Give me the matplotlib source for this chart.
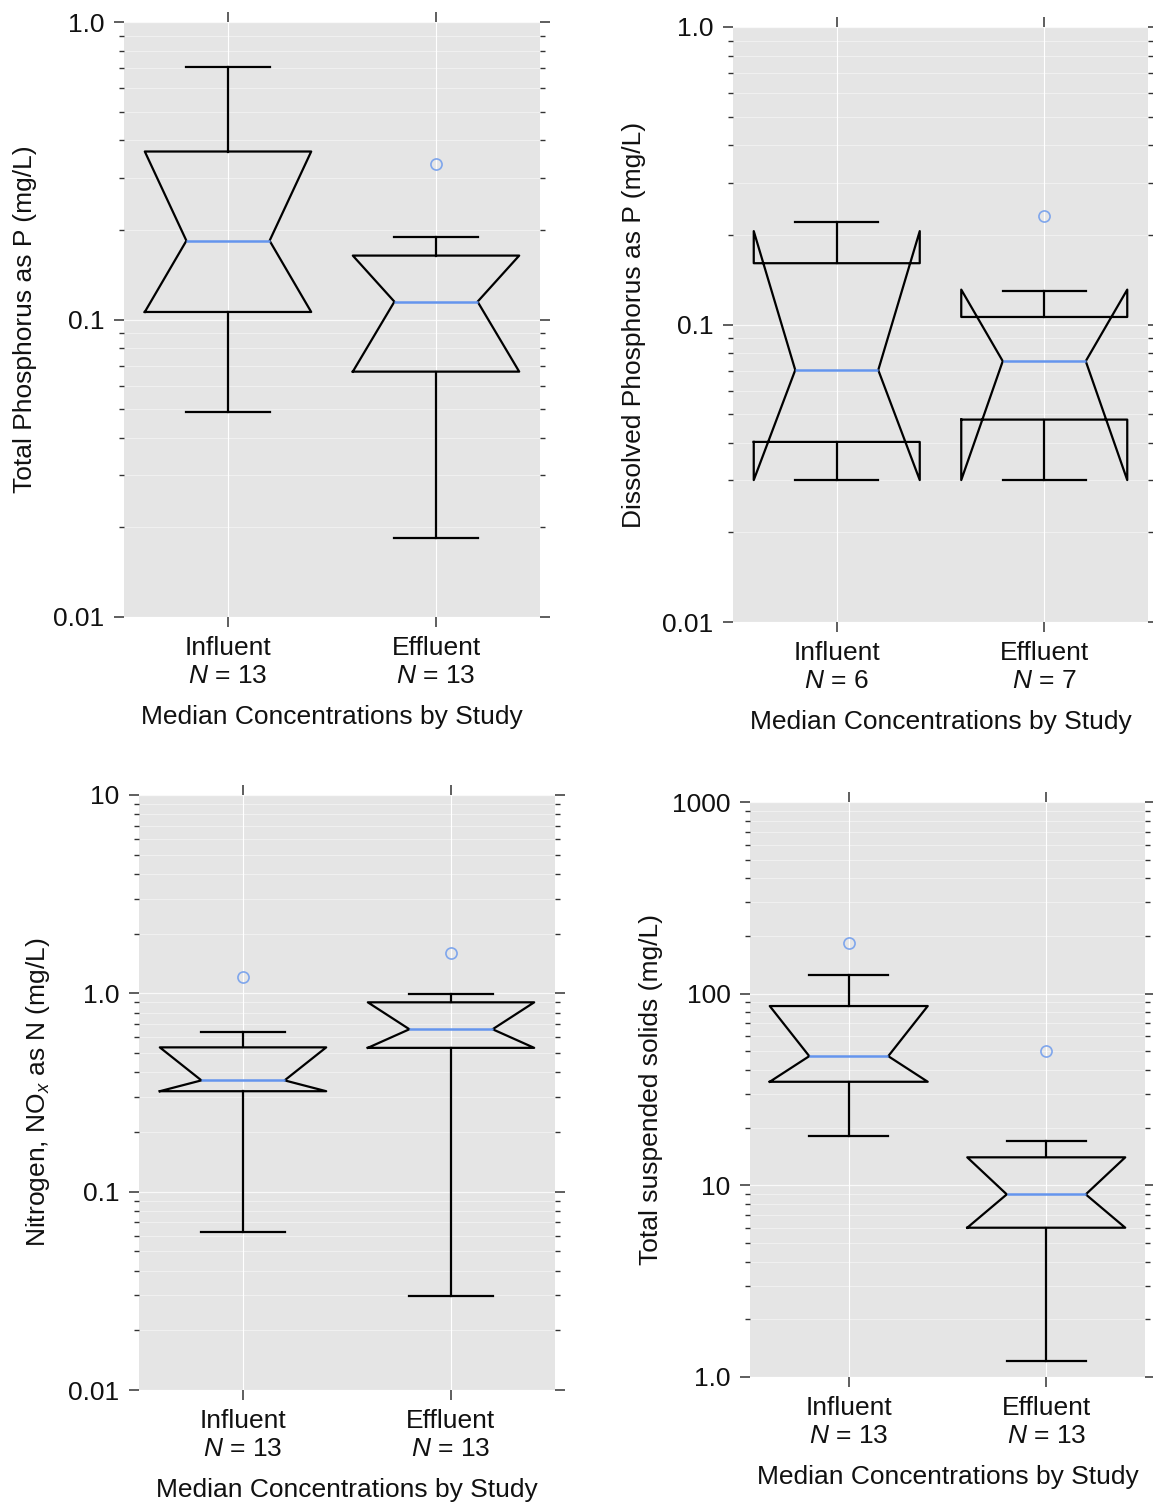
import numpy as np
import matplotlib
matplotlib.use("Agg")
from matplotlib import pyplot as plt
from matplotlib.ticker import FixedLocator, FixedFormatter, LogLocator, NullFormatter

plt.rcParams["font.family"] = "Liberation Sans"
plt.rcParams["mathtext.fontset"] = "custom"
plt.rcParams["mathtext.rm"] = "Liberation Sans"
plt.rcParams["mathtext.it"] = "Liberation Sans:italic"

locations = ["Influent", "Effluent"]
xlabel = "Median Concentrations by Study"

# total phosphorus as P (mg/L)
tp_n = [13, 13]
tp_whislo = [0.049, 0.0184]
tp_q1 = [0.106, 0.0668]
tp_med = [0.184, 0.1148]
tp_q3 = [0.367, 0.164]
tp_whishi = [0.706, 0.1887]
tp_cilo = [0.106, 0.0668]
tp_cihi = [0.367, 0.164]
tp_fliers = [[], [0.334]]

# dissolved phosphorus as P (mg/L)
dp_n = [6, 7]
dp_whislo = [0.030, 0.030]
dp_q1 = [0.0403, 0.0479]
dp_med = [0.0703, 0.0753]
dp_q3 = [0.1607, 0.106]
dp_whishi = [0.221, 0.130]
dp_cilo = [0.030, 0.030]
dp_cihi = [0.206, 0.131]
dp_fliers = [[], [0.232]]

# nitrogen, NOx as N (mg/L)
nox_n = [13, 13]
nox_whislo = [0.0623, 0.0298]
nox_q1 = [0.321, 0.531]
nox_med = [0.364, 0.659]
nox_q3 = [0.534, 0.901]
nox_whishi = [0.636, 0.997]
nox_cilo = [0.321, 0.531]
nox_cihi = [0.534, 0.901]
nox_fliers = [[1.205], [1.60]]

# total suspended solids (mg/L)
tss_n = [13, 13]
tss_whislo = [18.0, 1.21]
tss_q1 = [34.7, 6.01]
tss_med = [47.2, 8.97]
tss_q3 = [86.2, 14.0]
tss_whishi = [124.6, 17.0]
tss_cilo = [34.7, 6.01]
tss_cihi = [86.2, 14.0]
tss_fliers = [[183.5], [50.4]]

tp_yticks = [0.01, 0.1, 1.0]
tp_yticklabels = ["0.01", "0.1", "1.0"]
nox_yticks = [0.01, 0.1, 1.0, 10.0]
nox_yticklabels = ["0.01", "0.1", "1.0", "10"]
tss_yticks = [1.0, 10.0, 100.0, 1000.0]
tss_yticklabels = ["1.0", "10", "100", "1000"]

W, H = 1153, 1507
FS = 19
BOX_COLOR = "black"
MED_COLOR = "#6495ed"
FLIER_COLOR = "#7fa6ec"
TICK_COLOR = "#333333"
TEXT_COLOR = "#111111"


def box_stats(whislo, q1, med, q3, whishi, cilo, cihi, fliers):
    stats = []
    for i in range(len(med)):
        stats.append(dict(whislo=whislo[i], q1=q1[i], med=med[i], q3=q3[i],
                          whishi=whishi[i], cilo=cilo[i], cihi=cihi[i],
                          fliers=np.array(fliers[i]), label=locations[i]))
    return stats


def draw_panel(fig, rect_px, stats, n, yticks, yticklabels, ylabel):
    # rect_px = (left, top, right, bottom) in pixels from the top-left corner
    l, t, r, b = rect_px
    ax = fig.add_axes([l / W, 1 - b / H, (r - l) / W, (b - t) / H])
    ax.set_facecolor("#e5e5e5")
    ax.set_axisbelow(True)
    ax.set_yscale("log")

    lw = 1.6
    ax.bxp(stats, positions=[1, 2], widths=0.8, shownotches=True,
           manage_ticks=False,
           boxprops=dict(color=BOX_COLOR, lw=lw),
           whiskerprops=dict(color=BOX_COLOR, lw=lw),
           capprops=dict(color=BOX_COLOR, lw=lw),
           medianprops=dict(color=MED_COLOR, lw=1.8),
           flierprops=dict(marker="o", markerfacecolor="none",
                           markeredgecolor=FLIER_COLOR, markersize=8,
                           markeredgewidth=1.2))

    ax.set_xlim(0.5, 2.5)
    ax.set_ylim(yticks[0], yticks[-1])
    ax.set_xticks([1, 2])
    ax.set_xticklabels([f"{loc}\n$N$ = {k}" for loc, k in zip(locations, n)])
    ax.yaxis.set_major_locator(FixedLocator(yticks))
    ax.yaxis.set_major_formatter(FixedFormatter(yticklabels))
    ax.yaxis.set_minor_locator(LogLocator(base=10, subs=np.arange(2, 10)))
    ax.yaxis.set_minor_formatter(NullFormatter())

    ax.tick_params(axis="both", which="major", direction="out", length=7,
                   width=1.1, color=TICK_COLOR, labelsize=FS, pad=7,
                   labelcolor=TEXT_COLOR)
    ax.tick_params(axis="y", which="both", left=True, right=True)
    ax.tick_params(axis="y", which="minor", direction="out", length=3.5,
                   width=1.0, color=TICK_COLOR)
    ax.tick_params(axis="x", top=True, bottom=True)

    for s in ax.spines.values():
        s.set_visible(False)

    ax.grid(True, axis="x", color="white", lw=0.8)
    ax.grid(True, axis="y", which="major", color="white", lw=0.9, alpha=0.8)
    ax.grid(True, axis="y", which="minor", color="white", lw=0.8, alpha=0.45)

    ax.set_xlabel(xlabel, fontsize=FS, labelpad=12, color=TEXT_COLOR)
    ax.set_ylabel(ylabel, fontsize=FS, color=TEXT_COLOR)
    ax.yaxis.set_label_coords(-87 / (r - l), 0.5)
    return ax


fig = plt.figure(figsize=(W / 100, H / 100), dpi=100)

draw_panel(fig, (124, 22, 540, 617),
           box_stats(tp_whislo, tp_q1, tp_med, tp_q3, tp_whishi, tp_cilo, tp_cihi, tp_fliers),
           tp_n, tp_yticks, tp_yticklabels, "Total Phosphorus as P (mg/L)")

draw_panel(fig, (733, 27, 1148, 622),
           box_stats(dp_whislo, dp_q1, dp_med, dp_q3, dp_whishi, dp_cilo, dp_cihi, dp_fliers),
           dp_n, tp_yticks, tp_yticklabels, "Dissolved Phosphorus as P (mg/L)")

draw_panel(fig, (139, 795, 555, 1390),
           box_stats(nox_whislo, nox_q1, nox_med, nox_q3, nox_whishi, nox_cilo, nox_cihi, nox_fliers),
           nox_n, nox_yticks, nox_yticklabels, "Nitrogen, NO$_x$ as N (mg/L)")

draw_panel(fig, (750, 802, 1145, 1377),
           box_stats(tss_whislo, tss_q1, tss_med, tss_q3, tss_whishi, tss_cilo, tss_cihi, tss_fliers),
           tss_n, tss_yticks, tss_yticklabels, "Total suspended solids (mg/L)")

fig.savefig("out.png", dpi=100, facecolor="white")
